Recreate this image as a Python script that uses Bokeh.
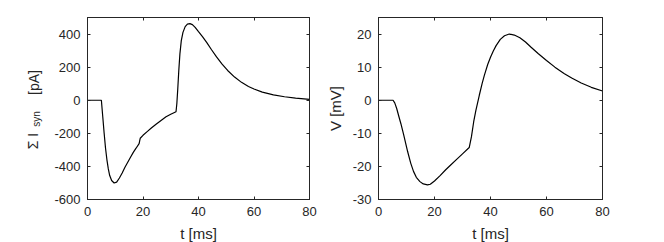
from bokeh.plotting import figure
from bokeh.layouts import row
from bokeh.models import LinearAxis, FixedTicker, Label, Range1d, CustomJSTickFormatter
from bokeh.embed import file_html
from bokeh.resources import INLINE
import math

# ---- data: summed synaptic current ----
t_isyn = [0, 5.0, 5.5, 6.0, 6.5, 7.0, 7.5, 8.0, 8.7, 9.6, 10.5, 11.5, 12.5, 13.5, 14.5,
          15.5, 16.5, 17.5, 18.6, 18.8, 19.0, 20.0, 21.5, 23.0, 24.7, 26.5, 28.3, 30.0,
          31.9, 32.2, 32.5, 32.9, 33.3, 33.8, 34.4, 35.2, 36.0, 36.9, 37.8, 38.8, 40.0,
          41.5, 43.0, 44.7, 46.5, 48.5, 50.5, 53.0, 55.5, 58.0, 60.0, 63.0, 67.0, 71.0,
          75.0, 80.0]
isyn = [0, 0, -100, -200, -290, -360, -415, -455, -485, -500, -495, -470, -440, -405, -375,
        -345, -315, -290, -262, -245, -230, -212, -190, -168, -145, -122, -100, -85,
        -70, -20, 60, 180, 280, 360, 410, 445, 460, 463, 457, 440, 414,
        383, 348, 305, 262, 218, 180, 140, 108, 83, 68, 49, 32, 21,
        13, 5]

# ---- data: membrane potential ----
t_v = [0, 5.2, 5.8, 6.5, 7.3, 8.0, 9.0, 10.4, 11.5, 12.5, 13.5, 14.8, 16.0, 17.5, 18.5,
       20.0, 22.0, 24.0, 25.5, 28.0, 30.0, 32.4, 33.2, 34.0, 34.8, 36.0, 37.0, 37.8,
       39.0, 40.0, 41.0, 42.0, 43.5, 45.0, 46.7, 48.5, 50.5, 52.5, 54.5, 57.0, 60.0,
       63.0, 66.4, 69.0, 72.4, 76.0, 80.0]
v = [0, 0, -0.8, -2.5, -5.0, -7.1, -10.5, -15.5, -19.0, -21.5, -23.3, -24.6, -25.3, -25.6, -25.4,
     -24.4, -22.8, -21.0, -19.8, -17.8, -16.2, -14.3, -11.0, -6.5, -3.0, 1.5, 5.0, 7.5,
     10.8, 13.0, 14.9, 16.5, 18.4, 19.5, 20.0, 19.7, 18.9, 17.6, 16.0, 14.1, 12.0,
     10.0, 8.0, 6.7, 5.2, 3.9, 2.8]

x_ticks = [0, 20, 40, 60, 80]
isyn_ticks = [-600, -400, -200, 0, 200, 400]
v_ticks = [-30, -20, -10, 0, 10, 20]

FONT = "Liberation Sans"
TXT = "#262626"
H = 241
FRAME_BOTTOM = 199  # page y of the plot frames' lower edge


def plain():
    return CustomJSTickFormatter(code="return tick.toString();")


def blank():
    return CustomJSTickFormatter(code="return '';")


def style(p, yticks):
    p.xaxis.ticker = FixedTicker(ticks=x_ticks)
    p.yaxis.ticker = FixedTicker(ticks=yticks)
    p.xaxis.formatter = plain()
    p.yaxis.formatter = plain()
    for ax in list(p.xaxis) + list(p.yaxis):
        ax.major_tick_in = 3
        ax.major_tick_out = 0
        ax.minor_tick_in = 0
        ax.minor_tick_out = 0
        ax.axis_line_color = TXT
        ax.major_tick_line_color = TXT
        ax.major_label_text_font = FONT
        ax.major_label_text_font_size = "13px"
        ax.major_label_text_color = TXT
        ax.major_label_standoff = 7
        ax.axis_label_text_font = FONT
        ax.axis_label_text_font_size = "15px"
        ax.axis_label_text_font_style = "normal"
        ax.axis_label_text_color = TXT
    p.xaxis.major_label_standoff = 7
    p.xaxis.axis_label_standoff = 6
    p.xaxis.axis_label = "t [ms]"
    # mirrored ticks on top and right
    top = LinearAxis(ticker=FixedTicker(ticks=x_ticks), formatter=blank(), major_tick_in=3,
                     major_tick_out=0, minor_tick_in=0, minor_tick_out=0,
                     major_label_standoff=0, axis_line_color=TXT, major_tick_line_color=TXT)
    right = LinearAxis(ticker=FixedTicker(ticks=yticks), formatter=blank(), major_tick_in=3,
                       major_tick_out=0, minor_tick_in=0, minor_tick_out=0,
                       major_label_standoff=0, axis_line_color=TXT, major_tick_line_color=TXT)
    p.add_layout(top, "above")
    p.add_layout(right, "right")
    p.xgrid.visible = False
    p.ygrid.visible = False
    p.outline_line_color = TXT
    p.background_fill_color = "white"
    p.border_fill_color = "white"


# narrow strip holding the composite y label "Σ I_syn [pA]"
p0 = figure(width=46, height=H, x_range=Range1d(0, 1), y_range=Range1d(0, 1),
            x_axis_location=None, y_axis_location=None,
            min_border=0, output_backend="svg", toolbar_location=None)
p0.xgrid.visible = False
p0.ygrid.visible = False
p0.outline_line_color = None
lab_kw = dict(x_units="screen", y_units="screen", angle=math.pi / 2, text_font=FONT,
              text_color=TXT, text_align="center", text_baseline="middle")
p0.add_layout(Label(x=32.5, y=FRAME_BOTTOM - 143.5, text="Σ I", text_font_size="14px", **lab_kw))
p0.add_layout(Label(x=35.5, y=FRAME_BOTTOM - 121.5, text="syn", text_font_size="10px", **lab_kw))
p0.add_layout(Label(x=33, y=FRAME_BOTTOM - 85, text="[pA]", text_font_size="14px", **lab_kw))

p1 = figure(frame_width=222, frame_height=182, output_backend="svg", toolbar_location=None,
            x_range=Range1d(0, 80), y_range=Range1d(-600, 500),
            min_border_left=41, min_border_right=10, min_border_top=17, min_border_bottom=42)
p1.line(t_isyn, isyn, line_color="black", line_width=1.2)
style(p1, isyn_ticks)

p2 = figure(frame_width=224, frame_height=182, output_backend="svg", toolbar_location=None,
            x_range=Range1d(0, 80), y_range=Range1d(-30, 25),
            min_border_left=59, min_border_right=10, min_border_top=17, min_border_bottom=42)
p2.line(t_v, v, line_color="black", line_width=1.2)
style(p2, v_ticks)
p2.yaxis[0].axis_label = "V [mV]"
p2.yaxis[0].axis_label_standoff = 6

layout = row(p0, p1, p2)
open("out.html", "w").write(file_html(layout, INLINE))
